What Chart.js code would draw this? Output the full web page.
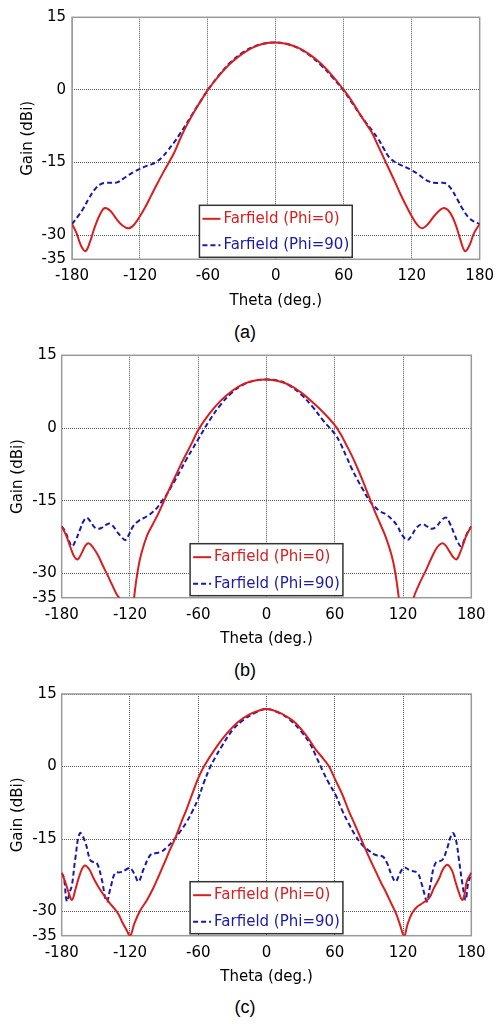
<!DOCTYPE html>
<html>
<head>
<meta charset="utf-8">
<script src="https://cdn.jsdelivr.net/npm/chart.js@4.4.0/dist/chart.umd.min.js"></script>
<style>
    body { margin: 0; background: #fff; width: 502px; height: 1024px; position: relative; overflow: hidden; }
    .panel { position: absolute; left: 0; }
    .caption { position: absolute; left: 0; width: 490px; text-align: center; font: 18px "Liberation Sans"; line-height: 18px; color: #000; }
</style>
</head>
<body>
<div class="panel" style="top:0"><canvas id="chart-a" width="502" height="310"></canvas></div>
<div class="caption" style="top:323px">(a)</div>
<div class="panel" style="top:340px"><canvas id="chart-b" width="502" height="308"></canvas></div>
<div class="caption" style="top:661px">(b)</div>
<div class="panel" style="top:680px"><canvas id="chart-c" width="502" height="306"></canvas></div>
<div class="caption" style="top:998px">(c)</div>

<script>
// Axis ticks and legend labels
const xTicks = [-180, -120, -60, 0, 60, 120, 180];
const yTicks = [-35, -30, -15, 0, 15];
const seriesLabels = ['Farfield (Phi=0)', 'Farfield (Phi=90)'];

// (a)
const thetaA0 = [-180,-176,-172,-168,-164,-160,-155,-151,-146,-141,-136,-130,-125,-120,-115,-110,-105,-100,-95,-90,-85,-80,-75,-70,-65,-60,-50,-40,-30,-20,-10,0,10,20,30,40,50,60,65,70,75,80,85,90,95,100,105,110,115,120,125,129,134,140,145,149,154,159,163,167,171,175,180];
const gainA0 = [-27.7,-29.6,-32.2,-33.3,-31.3,-28.4,-25.6,-24.4,-25.0,-26.6,-27.9,-28.6,-27.8,-26.1,-24.1,-21.8,-19.5,-17.3,-15.2,-13.1,-10.4,-7.9,-5.7,-3.7,-1.8,0,3.0,5.5,7.4,8.8,9.6,9.8,9.5,8.7,7.3,5.4,2.9,0,-1.6,-3.4,-5.3,-7.1,-8.9,-11.4,-13.9,-16.4,-18.9,-21.5,-23.9,-26.1,-27.9,-28.6,-27.8,-26.0,-24.8,-24.4,-25.4,-28.0,-31.0,-33.3,-32.1,-29.6,-27.7];
const thetaA90 = [-180,-175,-170,-165,-160,-155,-150,-145,-140,-135,-130,-125,-120,-115,-110,-105,-100,-95,-90,-85,-80,-75,-70,-65,-60,-50,-40,-30,-20,-10,0,10,20,30,40,50,60,65,70,75,80,85,90,95,100,105,110,115,120,125,130,135,140,145,150,155,160,165,170,175,180];
const gainA90 = [-27.7,-26.2,-24.5,-22.4,-20.6,-19.5,-19.2,-19.2,-19.1,-18.4,-17.6,-16.9,-16.3,-15.8,-15.4,-14.8,-13.8,-12.4,-10.9,-9.2,-7.4,-5.5,-3.6,-1.8,0,3.1,5.7,7.6,8.9,9.6,9.8,9.5,8.6,7.1,5.1,2.6,-0.2,-1.9,-3.6,-5.3,-6.9,-8.4,-10.0,-12.0,-13.9,-14.9,-15.5,-16.0,-16.6,-17.3,-18.2,-18.9,-19.2,-19.2,-19.3,-20.5,-22.5,-24.6,-26.3,-27.2,-27.7];

// (b)
const thetaB0 = [-180,-176,-172,-169,-166,-162,-159,-156,-152,-148,-144,-140,-136,-132,-129,-125,-122,-119,-116,-113,-110,-105,-100,-95,-90,-85,-80,-75,-70,-65,-60,-50,-40,-30,-20,-10,0,10,20,30,40,50,60,65,70,75,80,85,90,95,100,105,110,113,116,119,122,126,129,134,140,145,150,154,157,161,164,167,170,173,176,180];
const gainB0 = [-20.3,-22.2,-24.8,-26.5,-27.1,-25.6,-24.2,-23.8,-24.8,-26.3,-28.3,-30.2,-32.2,-34.2,-35.3,-40,-48,-42,-34.2,-29.2,-25.9,-22.2,-19.9,-17.6,-15.0,-12.4,-9.9,-7.4,-5.1,-2.8,-0.4,3.0,5.7,7.7,9.1,9.8,10.0,9.7,8.9,7.4,5.4,3.2,0.6,-1.2,-3.4,-5.7,-8.3,-11.1,-14.1,-17.1,-19.8,-22.6,-26.3,-29.6,-34.5,-41,-48,-40,-35.3,-32.3,-29.4,-26.8,-24.6,-23.8,-24.1,-25.5,-26.6,-27.1,-25.8,-23.9,-22.0,-20.3];
const thetaB90 = [-180,-177,-174,-171,-168,-164,-161,-158,-155,-151,-148,-145,-141,-138,-135,-131,-127,-124,-121,-117,-112,-105,-100,-96,-92,-88,-84,-80,-76,-70,-65,-60,-50,-40,-30,-20,-10,0,10,20,30,40,50,60,65,70,75,80,85,90,95,100,105,110,115,119,124,128,132,137,141,145,149,154,158,161,165,168,171,174,177,180];
const gainB90 = [-20.3,-21.3,-23.0,-24.4,-23.3,-21.0,-19.3,-18.5,-19.2,-20.5,-20.8,-20.6,-20.0,-19.7,-20.2,-21.5,-22.6,-23.1,-22.0,-20.2,-19.1,-18.2,-17.3,-16.4,-15.1,-13.8,-12.2,-10.6,-8.9,-6.3,-4.3,-2.3,1.6,4.9,7.4,9.0,9.8,10.0,9.8,8.8,7.0,4.5,1.5,-1.2,-3.2,-5.8,-8.4,-10.7,-12.8,-14.8,-16.2,-17.2,-17.8,-18.8,-20.2,-22.0,-23.1,-22.0,-20.5,-19.8,-20.3,-20.8,-20.4,-19.0,-18.5,-19.6,-21.8,-23.5,-24.4,-23.0,-21.4,-20.3];

// (c)
const thetaC0 = [-180,-177,-174,-171,-168,-164,-160,-156,-152,-147,-143,-138,-134,-130,-127,-123,-120,-116,-111,-105,-100,-95,-90,-85,-80,-75,-70,-65,-60,-55,-45,-35,-25,-15,-5,0,10,20,26,35,43,50,55,60,67,72,78,84,90,96,101,105,110,114,117,121,124,128,132,137,143,147,152,155,159,163,166,169,172,174,176,180];
const gainC0 = [-22.0,-23.8,-26.0,-27.6,-25.5,-22.3,-20.5,-21.2,-23.1,-25.2,-26.6,-28.2,-29.3,-30.6,-32.1,-33.8,-35.1,-32.4,-29.8,-27.6,-25.4,-22.8,-20.1,-17.3,-14.7,-11.6,-8.7,-5.5,-2.4,0,3.7,6.8,9.2,10.8,11.7,11.9,11.3,10.0,8.9,6.4,3.6,1.6,0,-2.5,-6.0,-9.0,-12.2,-15.5,-18.7,-21.7,-24.2,-26.0,-28.5,-30.5,-32.5,-35.1,-32.6,-30.3,-29.1,-28.3,-27.2,-25.2,-23.0,-21.3,-20.3,-21.5,-23.8,-26.0,-27.6,-26.5,-23.8,-22.0];
const thetaC90 = [-180,-178,-175.5,-173,-171,-168,-164,-159.5,-155,-152,-149,-145,-140.5,-137,-133,-129,-124,-120,-116,-112.5,-108,-102,-97,-93,-88,-81.5,-76,-70,-65,-60,-55,-50,-45,-40,-30,-20,-10,0,10,20,30,38,43,50,55,61,66,72,78,84,90,96,102,106,110,113.5,117,121,126,132.5,136,139,141,144,148.5,154.5,158,163.5,166.5,169,172,175,177,180];
const gainC90 = [-22.0,-23.1,-27.9,-26.0,-24.5,-19.0,-13.8,-15.5,-19.3,-19.8,-20.0,-23.1,-27.9,-25.0,-22.0,-21.9,-21.4,-21.0,-22.3,-23.8,-21.2,-18.3,-17.9,-17.7,-16.8,-15.2,-13.5,-11.4,-9.2,-6.6,-3.3,-0.4,1.9,3.9,7.5,9.7,11.1,11.9,11.2,9.8,7.4,4.8,2.4,-1.2,-3.5,-6.0,-8.8,-11.7,-14.2,-16.2,-17.4,-18.3,-18.6,-20.0,-22.5,-23.8,-22.2,-20.9,-21.5,-22.0,-24.0,-26.5,-27.9,-24.5,-20.0,-19.3,-17.5,-13.8,-15.2,-19.0,-24.0,-27.6,-24.5,-22.0];

const RED = '#d81e1e';
const BLUE = '#1a1aa8';
const FONT = '"DejaVu Sans"';

const toPoints = (theta, gain) => theta.map((t, i) => ({ x: t, y: gain[i] }));

// plot frame drawn over the dotted grid
const plotFrame = {
    id: 'plotFrame',
    beforeDatasetsDraw(chart) {
        const { ctx, chartArea: a } = chart;
        ctx.save();
        ctx.strokeStyle = '#9a9a9a';
        ctx.lineWidth = 1.5;
        ctx.strokeRect(a.left, a.top, a.right - a.left, a.bottom - a.top);
        ctx.restore();
    }
};

// boxed legend sitting inside the plot, bottom centre
const boxLegend = {
    id: 'boxLegend',
    afterDatasetsDraw(chart) {
        const { ctx, chartArea: a } = chart;
        const sets = chart.data.datasets;
        ctx.save();
        ctx.font = '15px ' + FONT;
        const w = Math.max(...sets.map(d => ctx.measureText(d.label).width)) + 27;
        const h = 52;
        const x = (a.left + a.right) / 2 - w / 2;
        const y = a.bottom - 2 - h;
        ctx.fillStyle = '#fff';
        ctx.fillRect(x, y, w, h);
        ctx.strokeStyle = '#333';
        ctx.lineWidth = 1.5;
        ctx.strokeRect(x, y, w, h);
        sets.forEach((d, i) => {
            const cy = y + 13.5 + i * 26.5;
            ctx.strokeStyle = d.borderColor;
            ctx.lineWidth = 2;
            ctx.setLineDash(d.borderDash || []);
            ctx.beginPath();
            ctx.moveTo(x + 3, cy);
            ctx.lineTo(x + 21, cy);
            ctx.stroke();
            ctx.setLineDash([]);
            ctx.fillStyle = d.borderColor;
            ctx.textBaseline = 'middle';
            ctx.fillText(d.label, x + 24, cy);
        });
        ctx.restore();
    }
};

function makeChart(id, red, blue, geo) {
    const ctx = document.getElementById(id);
    return new Chart(ctx, {
        type: 'line',
        data: {
            datasets: [{
                label: seriesLabels[0],
                data: red,
                borderColor: RED,
                borderWidth: 2,
                pointRadius: 0,
                tension: 0.4
            }, {
                label: seriesLabels[1],
                data: blue,
                borderColor: BLUE,
                borderWidth: 2,
                borderDash: [5, 3],
                pointRadius: 0,
                tension: 0.4
            }]
        },
        options: {
            responsive: false,
            animation: false,
            devicePixelRatio: 1,
            layout: { padding: { top: geo.top, right: geo.right, left: 0, bottom: 0 } },
            plugins: {
                legend: { display: false },
                tooltip: { enabled: false }
            },
            scales: {
                x: {
                    type: 'linear',
                    min: -180,
                    max: 180,
                    afterBuildTicks: (s) => { s.ticks = xTicks.map(v => ({ value: v })); },
                    afterFit: (s) => { s.height = geo.xHeight; },
                    grid: { color: '#555', drawTicks: false },
                    border: { display: false, dash: [1, 1] },
                    ticks: { color: '#000', padding: 8, maxRotation: 0, font: { family: FONT, size: 15 } },
                    title: { display: true, text: 'Theta (deg.)', color: '#000', padding: { top: 0, bottom: 0 }, font: { family: FONT, size: 15 } }
                },
                y: {
                    min: -35,
                    max: 15,
                    afterBuildTicks: (s) => { s.ticks = yTicks.map(v => ({ value: v })); },
                    afterFit: (s) => { s.width = geo.yWidth; },
                    grid: { color: '#555', drawTicks: false },
                    border: { display: false, dash: [1, 1] },
                    ticks: { color: '#000', padding: geo.yPad, font: { family: FONT, size: 15 } },
                    title: { display: true, text: 'Gain (dBi)', color: '#000', padding: { top: geo.titlePad, bottom: 0 }, font: { family: FONT, size: 15 } }
                }
            }
        },
        plugins: [plotFrame, boxLegend]
    });
}

makeChart('chart-a', toPoints(thetaA0, gainA0), toPoints(thetaA90, gainA90),
    { top: 17.3, right: 21.7, xHeight: 50.7, yWidth: 72, yPad: 6, titlePad: 19 });
makeChart('chart-b', toPoints(thetaB0, gainB0), toPoints(thetaB90, gainB90),
    { top: 15.3, right: 30.7, xHeight: 50.3, yWidth: 61.7, yPad: 5, titlePad: 9 });
makeChart('chart-c', toPoints(thetaC0, gainC0), toPoints(thetaC90, gainC90),
    { top: 13.7, right: 30.7, xHeight: 50.3, yWidth: 61.7, yPad: 5, titlePad: 9 });
</script>
</body>
</html>
